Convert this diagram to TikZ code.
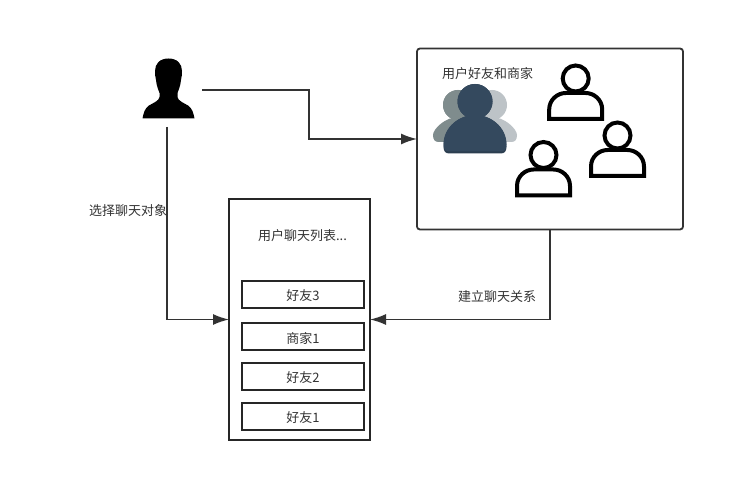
\documentclass[tikz,border=0pt]{standalone}
\usepackage{fontspec}
\setmainfont{Noto Sans CJK SC}
\usetikzlibrary{arrows.meta}
\definecolor{ink}{HTML}{333333}
\definecolor{navy}{HTML}{34495E}
\definecolor{navyd}{HTML}{2C3E50}
\definecolor{greyl}{HTML}{7F8C8D}
\definecolor{greyr}{HTML}{BDC3C7}
\tikzset{
  lab/.style={font=\fontsize{13}{15}\selectfont,text=ink,inner sep=0pt},
  boxa/.style={draw=ink,line width=1.8pt,fill=white,rounded corners=3pt,minimum width=266pt,minimum height=181pt,inner sep=0pt,outer sep=0pt},
  listbox/.style={draw=black!85,line width=1.6pt,fill=white,minimum width=141pt,minimum height=241pt,inner sep=0pt,outer sep=0pt},
  item/.style={lab,draw=black!85,line width=1.6pt,fill=white,minimum width=122pt,minimum height=27pt},
  conn/.style={draw=ink,line width=1.6pt,-{Latex[length=16pt,width=11pt]}},
  outline/.style={draw=black,line width=4pt,fill=white,line join=miter},
}
\newcommand{\outlineperson}[2]{%
  \begin{scope}[shift={(#1,#2)}]
    \draw[outline] (0,0) circle (13);
    \draw[outline] (-26.5,40.5) -- (-26.5,31) .. controls (-26.5,21) and (-18,14.5) .. (-10,14.5) -- (10,14.5) .. controls (18,14.5) and (26.5,21) .. (26.5,31) -- (26.5,40.5) -- cycle;
  \end{scope}}
\newcommand{\groupperson}[6]{%
  \fill (#1,#2) circle (#3);
  \fill (#1-#4,#6-7) .. controls (#1-#4,#5+12) and (#1-#4*0.5,#5) .. (#1,#5) .. controls (#1+#4*0.5,#5) and (#1+#4,#5+12) .. (#1+#4,#6-7) .. controls (#1+#4,#6-2) and (#1+#4-2,#6) .. (#1+#4-6,#6) -- (#1-#4+6,#6) .. controls (#1-#4+2,#6) and (#1-#4,#6-2) .. (#1-#4,#6-7) -- cycle;}
\begin{document}
\begin{tikzpicture}[x=1pt,y=-1pt]
\useasboundingbox (0,0) rectangle (745,502);
\fill[white] (0,0) rectangle (745,502);

% user silhouette
\fill[black] (168.5,58.5) .. controls (177.5,58.5) and (182,64) .. (182,71) .. controls (182,74) and (181.8,77) .. (181,80)
  .. controls (180.5,86) and (178.5,90) .. (177.5,93) -- (177.5,97) .. controls (178,101) and (184,103) .. (188,105.5) .. controls (192,108) and (193.5,113) .. (194.5,118.5)
  -- (142.5,118.5) .. controls (143.5,113) and (145,108) .. (149,105.5) .. controls (153,103) and (159,101) .. (159.5,97) -- (159.5,93) .. controls (158.5,90) and (156.5,86) .. (156,80)
  .. controls (155.2,77) and (155,74) .. (155,71) .. controls (155,64) and (159.5,58.5) .. (168.5,58.5) -- cycle;
\coordinate (userout) at (202,90);
\coordinate (userdown) at (167,127);

% friends box
\node[boxa] (friends) at (550,139) {};
\node[lab] (friendstitle) at (487.5,74) {用户好友和商家};

% group icon
\begin{scope}[greyl]\groupperson{458}{105}{15}{25}{117}{142}\end{scope}
\begin{scope}[greyr]\groupperson{492}{105}{15}{25}{117}{142}\end{scope}
\begin{scope}[greyl]\fill (458,105) circle (15);\end{scope}
\begin{scope}[navyd]\groupperson{475}{101.5}{17.5}{31.5}{115}{153.5}\end{scope}
\begin{scope}[navy]\groupperson{475}{101.5}{17.5}{31.5}{115}{151.5}\end{scope}

% outline people
\outlineperson{575.7}{78.5}
\outlineperson{617.5}{135.5}
\outlineperson{543.5}{155}

% chat list
\node[listbox] (list) at (299.5,319.5) {};
\node[lab] (listtitle) at (302.5,236) {用户聊天列表...};
\node[item,text depth=0pt] (i3) at (303,294.5) {\raisebox{-1pt}{好友3}};
\node[item,text depth=0pt] (i2) at (303,336.5) {\raisebox{-2pt}{商家1}};
\node[item,text depth=0pt] (i1) at (303,376.5) {\raisebox{-1pt}{好友2}};
\node[item,text depth=0pt] (i0) at (303,416.5) {\raisebox{-1pt}{好友1}};

% connectors
\coordinate (bend1) at (309,90);
\coordinate (bend2) at (309,139);
\draw[conn] (userout) -- (bend1) -- (bend2) -- (friends.west);
\coordinate (bend3) at (167,319.5);
\draw[conn] (userdown) -- (bend3) -- (list.west);
\coordinate (bend4) at (550,319.5);
\draw[conn] (friends.south) -- (bend4) -- (list.east);

\node[lab] (lchoose) at (128,210.5) {选择聊天对象};
\node[lab] (lbuild) at (497,296.5) {建立聊天关系};
\end{tikzpicture}
\end{document}
